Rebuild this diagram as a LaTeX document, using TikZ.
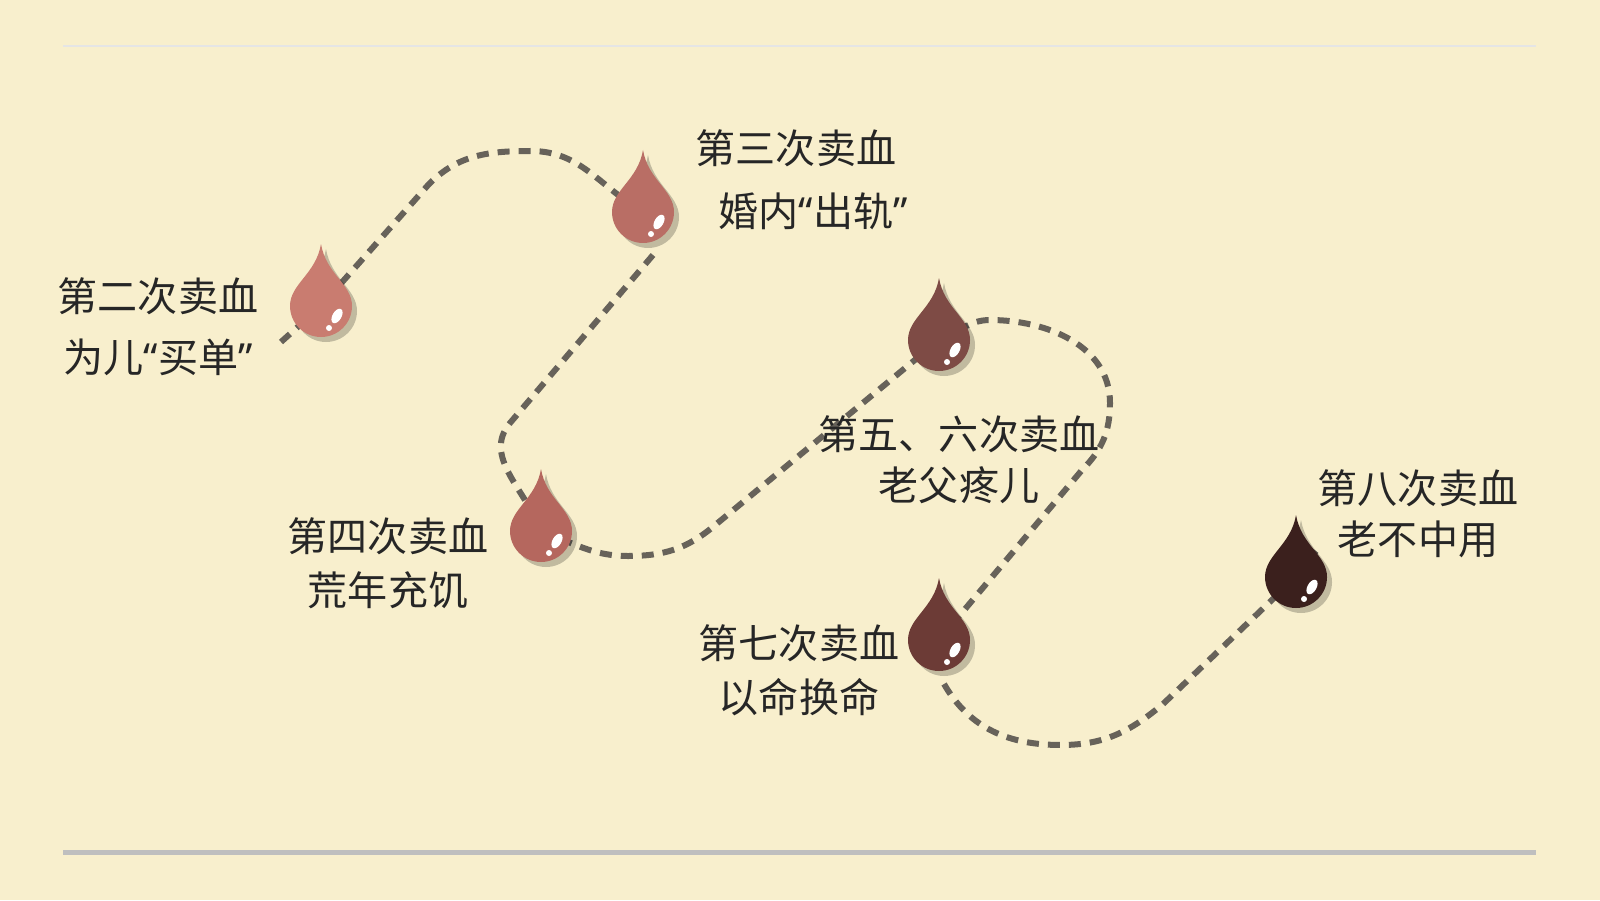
\documentclass[tikz,border=0pt]{standalone}
\usepackage{fontspec}
\setmainfont{Noto Sans CJK SC}
\newfontfamily\quotefont{Noto Sans}
\newcommand\openq{{\quotefont “}}
\newcommand\closeq{{\quotefont ”}}
\usetikzlibrary{positioning}
\definecolor{paper}{HTML}{F8EFCD}
\definecolor{trailgray}{HTML}{67625A}
\definecolor{dropA}{HTML}{C97C70}
\definecolor{dropB}{HTML}{B96E65}
\definecolor{dropC}{HTML}{B5675E}
\definecolor{dropD}{HTML}{7E4B45}
\definecolor{dropE}{HTML}{6C3B36}
\definecolor{dropF}{HTML}{3B201D}
\tikzset{
  trail/.style={line width=0.6mm, draw=trailgray, dash pattern=on 1.2mm off 0.9mm},
  caption/.style={font=\fontsize{11.4}{13}\selectfont, text=black!85, inner sep=0pt},
  dropbody/.style={circle, minimum size=0.62cm, inner sep=0pt}
}
\newcommand\blooddrop[3]{%
  \node (#1) [dropbody] at (#2) {};
  \begin{scope}[shift={(#2)}]
    \fill[black, opacity=0.22, shift={(0.05,-0.05)}] (0,0.62) .. controls (0.05,0.32) and (0.31,0.22) .. (0.31,0) arc (0:-180:0.31) .. controls (-0.31,0.22) and (-0.05,0.32) .. (0,0.62);
    \fill[#3] (0,0.62) .. controls (0.05,0.32) and (0.31,0.22) .. (0.31,0) arc (0:-180:0.31) .. controls (-0.31,0.22) and (-0.05,0.32) .. (0,0.62);
    \fill[white, rotate around={60:(0.16,-0.1)}] (0.16,-0.1) ellipse (0.08 and 0.045);
    \fill[white] (0.08,-0.22) circle (0.03);
  \end{scope}}
\begin{document}
\begin{tikzpicture}
\fill[paper] (0,0) rectangle (16,9);
\draw[draw=black!10, line width=0.25mm] (0.63,8.54) -- (15.36,8.54);
\draw[draw=black!25, line width=0.5mm] (0.63,0.48) -- (15.36,0.48);

% trail between the drops
\coordinate (s) at (2.81,5.58);
\coordinate (e) at (13.16,3.49);
\draw[trail] (s) -- (3.21,5.94) -- (4.29,7.16) to[out=45,in=180] (5.31,7.49) to[out=0,in=150] (6.43,6.88)
  (6.53,6.45) -- (5.1,4.77) to[out=-130,in=110] (5.41,3.69)
  (5.41,3.69) to[out=-20,in=180] (6.28,3.44) to[out=0,in=-140] (7.14,3.74) -- (9.39,5.6)
  (9.39,5.6) to[out=20,in=180] (9.9,5.8) to[out=0,in=90] (11.1,4.97) to[out=-90,in=45] (10.82,4.3) -- (9.39,2.6)
  (9.44,2.16) to[out=-60,in=180] (10.61,1.55) to[out=0,in=-140] (11.63,1.96) -- (12.96,3.23)
  (12.96,3.23) -- (e);

\blooddrop{d2}{3.21,5.94}{dropA}
\blooddrop{d3}{6.43,6.88}{dropB}
\blooddrop{d4}{5.41,3.69}{dropC}
\blooddrop{d5}{9.39,5.6}{dropD}
\blooddrop{d7}{9.39,2.6}{dropE}
\blooddrop{d8}{12.96,3.23}{dropF}

\node (t2a) [caption] at (1.58,6.04) {第二次卖血};
\node (t2b) [caption] at (1.58,5.43) {为儿\openq 买单\closeq};
\node (t3a) [caption] at (7.96,7.52) {第三次卖血};
\node (t3b) [caption] at (8.13,6.89) {婚内\openq 出轨\closeq};
\node (t4a) [caption] at (3.88,3.64) {第四次卖血};
\node (t4b) [caption] at (3.88,3.1) {荒年充饥};
\node (t5a) [caption] at (9.59,4.66) {第五、六次卖血};
\node (t5b) [caption] at (9.59,4.15) {老父疼儿};
\node (t7a) [caption] at (7.99,2.57) {第七次卖血};
\node (t7b) [caption] at (7.99,2.03) {以命换命};
\node (t8a) [caption] at (14.18,4.12) {第八次卖血};
\node (t8b) [caption] at (14.18,3.61) {老不中用};
\end{tikzpicture}
\end{document}
